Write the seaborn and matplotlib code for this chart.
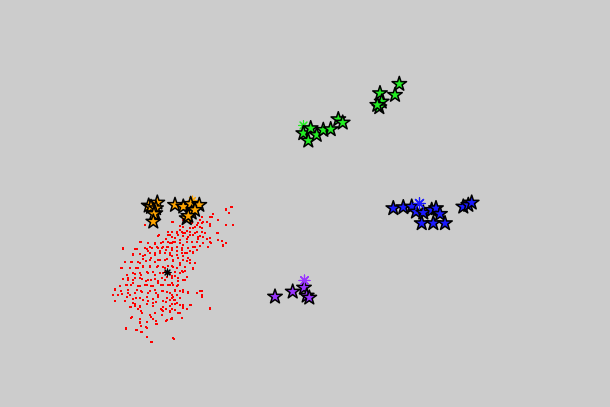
import numpy as np
import pandas as pd
import matplotlib
matplotlib.use("Agg")
import matplotlib.pyplot as plt
import seaborn as sns

# point positions (pixel-like units, y grows downward)
red_points = [
    (231, 207), (226, 210), (229, 213), (213, 214), (212, 217), (200, 220), (202, 217), (195, 216),
    (218, 220), (207, 222), (202, 223), (197, 225), (192, 223), (183, 220), (173, 222), (145, 225),
    (226, 225), (210, 226), (200, 227), (195, 227), (190, 228), (183, 227), (180, 226),
    (202, 232), (197, 232), (190, 232), (187, 231), (183, 233), (180, 230), (177, 232), (172, 232), (218, 233),
    (203, 237), (198, 237), (193, 235), (188, 237), (183, 236), (178, 235), (172, 237), (168, 235),
    (159, 235), (210, 238), (207, 239), (218, 240),
    (197, 242), (192, 242), (187, 242), (180, 243), (175, 242), (168, 242), (163, 242), (155, 244),
    (148, 243), (141, 242), (226, 243), (223, 246), (211, 243),
    (193, 247), (188, 248), (182, 248), (177, 247), (172, 248), (167, 247), (162, 248), (157, 247),
    (152, 248), (147, 249), (137, 249), (123, 248), (197, 250), (200, 246),
    (193, 253), (187, 253), (182, 253), (177, 255), (170, 253), (165, 253), (160, 253), (155, 255),
    (150, 253), (145, 255), (140, 254), (133, 254),
    (190, 260), (183, 260), (178, 258), (173, 260), (167, 259), (160, 260), (155, 262), (150, 260),
    (143, 259), (138, 262), (132, 262), (125, 262), (195, 263),
    (185, 267), (180, 265), (173, 267), (168, 266), (163, 267), (157, 267), (150, 266), (143, 267),
    (138, 268), (130, 268), (122, 268), (193, 268),
    (180, 273), (175, 272), (168, 272), (165, 272), (160, 273), (153, 272), (147, 272), (140, 273),
    (133, 273), (127, 275), (183, 272),
    (185, 280), (178, 278), (172, 278), (167, 277), (162, 278), (155, 279), (148, 280), (142, 279),
    (135, 278), (128, 280), (123, 279), (187, 277),
    (178, 285), (170, 285), (163, 285), (158, 283), (153, 286), (147, 285), (140, 286), (133, 283),
    (127, 285), (120, 286), (115, 289), (172, 283),
    (183, 292), (175, 290), (167, 292), (162, 291), (155, 290), (148, 293), (142, 292), (137, 290),
    (128, 293), (122, 294), (113, 295), (200, 291), (197, 293), (188, 292),
    (180, 298), (173, 297), (167, 298), (158, 297), (153, 299), (147, 297), (140, 298), (133, 299),
    (127, 297), (115, 301), (175, 300),
    (190, 305), (183, 305), (175, 304), (170, 306), (163, 307), (153, 306), (147, 304), (140, 307),
    (135, 304), (130, 307), (210, 308), (183, 308),
    (180, 313), (170, 312), (162, 310), (155, 313), (150, 315), (142, 313), (132, 317), (162, 315), (172, 318),
    (167, 320), (153, 319), (147, 322), (140, 323), (157, 324),
    (137, 330), (142, 332), (147, 328), (126, 328),
    (147, 337), (173, 338), (152, 342),
    # second pass, upper right of the cloud
    (232, 207), (226, 209), (229, 213), (213, 214), (210, 217), (203, 222), (198, 223), (202, 228),
    (193, 228), (172, 222), (218, 220), (233, 225), (210, 224), (177, 233), (182, 232), (185, 233),
    (190, 235), (195, 233), (200, 236), (205, 233), (217, 233), (175, 238), (180, 240), (187, 239),
    (192, 242), (198, 239), (203, 243), (210, 242), (222, 241), (172, 243), (183, 245), (195, 247),
    (208, 247), (223, 245),
    # second pass, middle left
    (123, 249), (133, 255), (143, 256), (148, 251), (155, 253), (160, 251), (166, 250), (170, 255),
    (151, 258), (158, 260), (165, 260), (131, 262), (140, 263), (146, 261), (121, 268), (136, 268),
    (143, 266), (150, 267), (158, 266), (165, 268), (135, 274), (141, 275), (148, 273), (155, 275),
    (163, 273), (170, 274), (128, 278), (133, 280), (140, 278), (146, 281), (151, 280), (158, 281),
    (165, 280), (126, 285), (131, 285), (138, 286), (145, 285), (151, 286), (161, 285), (168, 285),
    (115, 290), (121, 291), (128, 290), (135, 293), (141, 291), (150, 291), (156, 293), (163, 291),
    (170, 293), (118, 295), (130, 295), (158, 295),
    # second pass, middle right
    (172, 250), (177, 251), (182, 250), (185, 253), (190, 251), (193, 252), (172, 256), (177, 255),
    (183, 256), (188, 258), (173, 261), (180, 263), (187, 261), (190, 263), (172, 266), (177, 268),
    (182, 271), (185, 271), (193, 269), (172, 276), (175, 276), (178, 281), (183, 280), (173, 285),
    (177, 286), (175, 291), (180, 291), (183, 290), (188, 293), (197, 293), (202, 291), (172, 295),
    (177, 295), (202, 295),
    # second pass, lower part
    (115, 301), (125, 301), (136, 298), (143, 300), (148, 301), (153, 303), (156, 302), (163, 301),
    (166, 302), (170, 300), (133, 303), (131, 307), (135, 306), (140, 306), (138, 309), (141, 311),
    (161, 309), (166, 309), (170, 311), (163, 311), (131, 318), (140, 319), (151, 317), (156, 321),
    (166, 321), (171, 319), (140, 322), (141, 326), (146, 327), (156, 324), (126, 329), (136, 330),
    (141, 332), (147, 337), (151, 342),
    (172, 298), (174, 300), (172, 304), (177, 303), (180, 305), (183, 306), (172, 309), (175, 310),
    (178, 313), (187, 309), (191, 305), (202, 297), (210, 309), (172, 319), (182, 318), (174, 339),
    (145, 225), (158, 236), (168, 232), (170, 235), (140, 242), (155, 243), (161, 243), (166, 239),
    (170, 243), (173, 242), (123, 248), (135, 249), (145, 248), (150, 247), (158, 248), (163, 247),
    (168, 247),
]
red_x = [p[0] for p in red_points]
red_y = [p[1] for p in red_points]

orange_x = [148.7, 157.3, 151, 156, 155.3, 154, 153.3, 175, 183.3, 190.7, 199.3, 191.7, 195, 186.7, 188.3]
orange_y = [205.7, 202.7, 207, 208.3, 213.3, 214, 221.7, 205, 206.7, 204, 205, 212.7, 210, 218.3, 216]

green_x = [303.3, 310.7, 308.3, 316.7, 323.3, 330.7, 338.3, 342.7, 380, 381.7, 379.3, 377.3, 395, 399.3]
green_y = [133.3, 128.3, 140.7, 135, 130, 129.3, 119.3, 122.7, 93.3, 101.7, 107.3, 105, 95, 84]

blue_x = [393.3, 403.3, 411.7, 416, 423.3, 431.7, 436, 440, 421.7, 433.3, 445, 463.3, 468.3, 471.7]
blue_y = [208.3, 207.3, 206.7, 211.7, 212.7, 210, 208.3, 214, 223.3, 223.3, 223.3, 206.7, 205, 202.7]

purple_x = [275, 292.7, 304, 306.7, 309.3]
purple_y = [296.7, 291.7, 287.7, 295.7, 297.7]

# cluster centres
centre_x = [167, 192, 303, 419.3, 304.3]
centre_y = [272, 200, 125, 202.7, 280]
centre_col = ["black", "#ffa500", "#22ee22", "#1a1aff", "#9933ff"]
centre_size = [25, 40, 50, 70, 60]

stars = pd.concat([
    pd.DataFrame({"x": orange_x, "y": orange_y, "grp": "orange"}),
    pd.DataFrame({"x": green_x, "y": green_y, "grp": "green"}),
    pd.DataFrame({"x": blue_x, "y": blue_y, "grp": "blue"}),
    pd.DataFrame({"x": purple_x, "y": purple_y, "grp": "purple"}),
], ignore_index=True)
pal = {"orange": "#ffa500", "green": "#22ee22", "blue": "#1a1aff", "purple": "#9933ff"}

fig = plt.figure(figsize=(6.1, 4.07), dpi=100)
fig.patch.set_facecolor("#cccccc")
ax = fig.add_axes([0, 0, 1, 1])
ax.set_facecolor("#cccccc")

sns.scatterplot(x=red_x, y=red_y, color="red", marker="s", s=4.5, linewidth=0, ax=ax,
                legend=False, zorder=2, antialiased=False)
for cx, cy, cc, cs in zip(centre_x, centre_y, centre_col, centre_size):
    ax.scatter(cx, cy, marker=(8, 2, 0), s=cs, color=cc, linewidth=0.8, zorder=3)
sns.scatterplot(data=stars, x="x", y="y", hue="grp", palette=pal, marker="*", s=120,
                edgecolor="black", linewidth=1.1, ax=ax, legend=False, zorder=4)
# blue and purple centres sit on top of their stars
for i in (3, 4):
    ax.scatter(centre_x[i], centre_y[i], marker=(8, 2, 0), s=centre_size[i],
               color=centre_col[i], linewidth=0.8, zorder=5)

ax.set_xlim(0, 610)
ax.set_ylim(407, 0)
ax.axis("off")
fig.savefig("out.png", dpi=100, facecolor=fig.get_facecolor())
